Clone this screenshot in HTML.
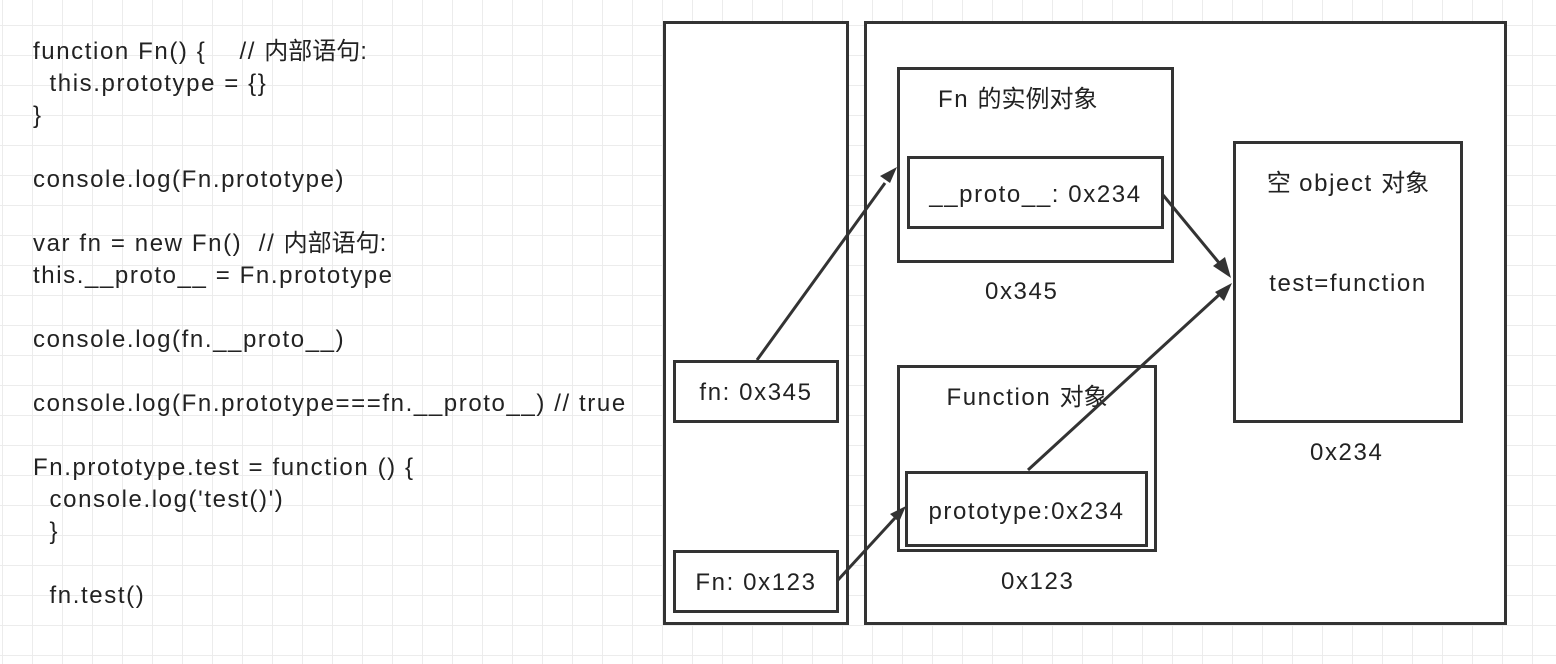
<!DOCTYPE html>
<html><head><meta charset="utf-8"><style>
body{margin:0;width:1556px;height:664px;overflow:hidden;background:#fff;
background-image:linear-gradient(#ececec 1px,transparent 1px),linear-gradient(90deg,#ececec 1px,transparent 1px);
background-size:30px 30px;background-position:2px 25px;font-family:"Liberation Sans","Noto Sans CJK SC",sans-serif;color:#222}
.b{position:absolute;border:3px solid #333;background:#fff;box-sizing:border-box}
.t{position:absolute;font-size:24px;white-space:pre;line-height:32px;letter-spacing:1.6px}
.c{letter-spacing:0}
</style></head><body>
<div class="t" style="left:33px;top:36px">function Fn() {    // <span class="c">内部语句</span>:
  this.prototype = {}
}

console.log(Fn.prototype)

var fn = new Fn()  // <span class="c">内部语句</span>:
this.__proto__ = Fn.prototype

console.log(fn.__proto__)

console.log(Fn.prototype===fn.__proto__) // true

Fn.prototype.test = function () {
  console.log('test()')
  }

  fn.test()</div>
<div class="b" style="left:663px;top:21px;width:186px;height:604px"></div>
<div class="b" style="left:864px;top:21px;width:643px;height:604px"></div>
<div class="b" style="left:673px;top:360px;width:166px;height:63px"><div class="t" style="left:0;right:0;top:14px;text-align:center">fn: 0x345</div></div>
<div class="b" style="left:673px;top:550px;width:166px;height:63px"><div class="t" style="left:0;right:0;top:14px;text-align:center">Fn: 0x123</div></div>
<div class="b" style="left:897px;top:67px;width:277px;height:196px"><div class="t" style="left:38px;top:14px">Fn <span class="c">的实例对象</span></div></div>
<div class="b" style="left:907px;top:156px;width:257px;height:73px"><div class="t" style="left:0;right:0;top:20px;text-align:center">__proto__: 0x234</div></div>
<div class="b" style="left:897px;top:365px;width:260px;height:187px"><div class="t" style="left:0;right:0;top:14px;text-align:center">Function <span class="c">对象</span></div></div>
<div class="b" style="left:905px;top:471px;width:243px;height:76px"><div class="t" style="left:0;right:0;top:22px;text-align:center">prototype:0x234</div></div>
<div class="b" style="left:1233px;top:141px;width:230px;height:282px"><div class="t" style="left:0;right:0;top:24px;text-align:center"><span class="c">空</span> object <span class="c">对象</span></div><div class="t" style="left:0;right:0;top:124px;text-align:center">test=function</div></div>
<div class="t" style="left:985px;top:276px">0x345</div>
<div class="t" style="left:1001px;top:566px">0x123</div>
<div class="t" style="left:1310px;top:437px">0x234</div>
<svg width="1556" height="664" style="position:absolute;left:0;top:0">
<g stroke="#333" stroke-width="3" fill="none">
<line x1="757" y1="360" x2="885" y2="183"/>
<line x1="1163" y1="195" x2="1220" y2="264"/>
<line x1="1028" y1="470" x2="1220" y2="294"/>
<line x1="838" y1="580" x2="895" y2="518"/>
</g>
<g fill="#333">
<path d="M897,167 L880,176 L890,183z"/>
<path d="M1231,278 L1213,266 L1225,257z"/>
<path d="M1232,283 L1215,292 L1224,301z"/>
<path d="M906,506 L890,514 L899,522z"/>
</g>
</svg>
</body></html>
